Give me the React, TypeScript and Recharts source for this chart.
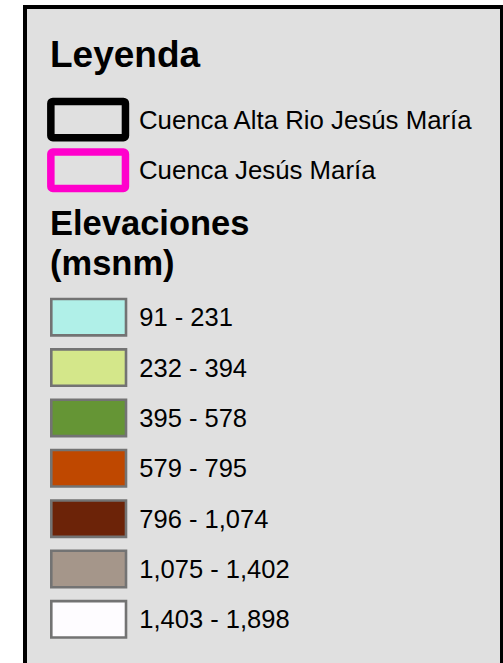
import { Bar, BarChart, Cell, LabelList, XAxis, YAxis } from "recharts"

const basinLabels = ["Cuenca Alta Rio Jesús María", "Cuenca Jesús María"]
const basinColors = ["#000000", "#ff00cc"]

const elevationLabels = [
  "91 - 231",
  "232 - 394",
  "395 - 578",
  "579 - 795",
  "796 - 1,074",
  "1,075 - 1,402",
  "1,403 - 1,898",
]
const elevationColors = [
  "#b0f0e8",
  "#d4e78a",
  "#659535",
  "#bf4800",
  "#6c2308",
  "#a5968a",
  "#fefcff",
]

const basinData = basinLabels.map((label) => ({ label, value: 1 }))
const elevationData = elevationLabels.map((label) => ({ label, value: 1 }))

const font = "'Liberation Sans', Arial, sans-serif"

export default function App() {
  return (
    <div
      style={{
        position: "absolute",
        left: 0,
        top: 0,
        width: 503,
        height: 663,
        overflow: "hidden",
        background: "#ffffff",
        fontFamily: font,
      }}
    >
      <div
        style={{
          position: "absolute",
          left: 23,
          top: 5,
          width: 480,
          height: 700,
          boxSizing: "border-box",
          borderLeft: "4px solid #000",
          borderTop: "4px solid #000",
          borderRight: "3.5px solid #000",
          background: "#e0e0e0",
        }}
      />
      <div
        style={{
          position: "absolute",
          left: 50,
          top: 36,
          fontSize: 37,
          lineHeight: "37px",
          fontWeight: "bold",
          color: "#000",
        }}
      >
        Leyenda
      </div>
      <div
        style={{
          position: "absolute",
          left: 50,
          top: 203,
          fontSize: 34.5,
          lineHeight: "40px",
          fontWeight: "bold",
          color: "#000",
        }}
      >
        Elevaciones
        <br />
        (msnm)
      </div>

      <div style={{ position: "absolute", left: 0, top: 0 }}>
        <BarChart
          width={503}
          height={663}
          layout="vertical"
          data={basinData}
          margin={{ top: 94.4, right: 377.55, bottom: 467.4, left: 50.85 }}
        >
          <XAxis type="number" domain={[0, 1]} hide />
          <YAxis type="category" dataKey="label" hide />
          <Bar
            dataKey="value"
            barSize={36.4}
            strokeWidth={7.5}
            radius={2}
            isAnimationActive={false}
          >
            {basinData.map((d, i) => (
              <Cell key={d.label} fill="none" stroke={basinColors[i]} />
            ))}
            <LabelList
              dataKey="label"
              position="right"
              offset={13.5}
              fill="#000"
              fontSize={25.8}
              fontFamily={font}
            />
          </Bar>
        </BarChart>
      </div>

      <div style={{ position: "absolute", left: 0, top: 0 }}>
        <BarChart
          width={503}
          height={663}
          layout="vertical"
          data={elevationData}
          margin={{ top: 292, right: 377, bottom: 18.5, left: 51.3 }}
        >
          <XAxis type="number" domain={[0, 1]} hide />
          <YAxis type="category" dataKey="label" hide />
          <Bar
            dataKey="value"
            barSize={36.4}
            strokeWidth={2.6}
            isAnimationActive={false}
          >
            {elevationData.map((d, i) => (
              <Cell key={d.label} fill={elevationColors[i]} stroke="#737373" />
            ))}
            <LabelList
              dataKey="label"
              position="right"
              offset={13.3}
              fill="#000"
              fontSize={25.5}
              fontFamily={font}
            />
          </Bar>
        </BarChart>
      </div>
    </div>
  )
}
